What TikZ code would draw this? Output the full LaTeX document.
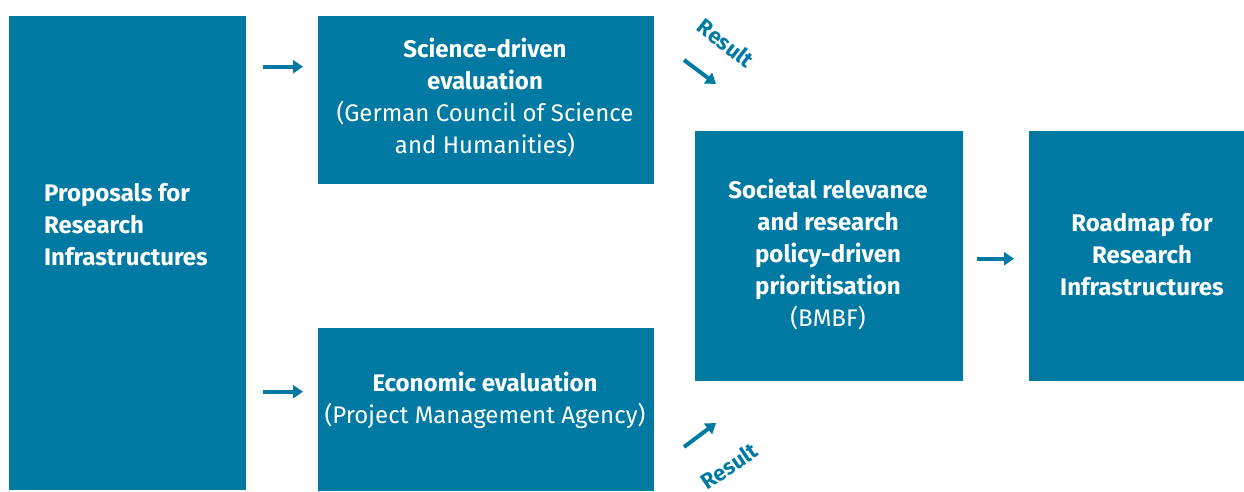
\documentclass[tikz,border=0pt]{standalone}
\usepackage{fontspec}
\setmainfont{Fira Sans}
\usetikzlibrary{arrows.meta}
\definecolor{bmbfblue}{RGB}{0,122,163}
\tikzset{
  box/.style={fill=bmbfblue, draw=none, anchor=north west, inner sep=0pt},
  lbl/.style={text=white, align=center, inner sep=0pt, font=\fontsize{24}{32}\selectfont},
  arr/.style={draw=bmbfblue, line width=4pt, -{Triangle[length=10pt,width=13pt]}},
  res/.style={text=bmbfblue, inner sep=0pt, font=\fontsize{22}{24}\selectfont\bfseries}
}
\begin{document}
\begin{tikzpicture}[x=1pt,y=-1pt]
\useasboundingbox (0,0) rectangle (1244,491);
% boxes
\node[box, minimum width=237pt, minimum height=474pt] (prop) at (9,16) {};
\node[box, minimum width=336pt, minimum height=168pt] (sci) at (318,16) {};
\node[box, minimum width=336pt, minimum height=163pt] (eco) at (318,328) {};
\node[box, minimum width=268pt, minimum height=250pt] (soc) at (695,131) {};
\node[box, minimum width=215pt, minimum height=250pt] (road) at (1029,131) {};
% texts
\node[lbl, align=left, anchor=west] (proptxt) at (44,225) {\bfseries Proposals for\\\bfseries Research\\\bfseries Infrastructures};
\node[lbl] (scitxt) at (485,98) {\bfseries Science-driven\\\bfseries evaluation\\(German Council of Science\\and Humanities)};
\node[lbl] (ecotxt) at (485,400) {\bfseries Economic evaluation\\(Project Management Agency)};
\node[lbl] (soctxt) at (828,254) {\bfseries Societal relevance\\\bfseries and research\\\bfseries policy-driven\\\bfseries prioritisation\\(BMBF)};
\node[lbl] (roadtxt) at (1142,255) {\bfseries Roadmap for\\\bfseries Research\\\bfseries Infrastructures};
% horizontal arrows
\coordinate (a1) at ([yshift=33.5pt]sci.west);
\coordinate (a2) at ([yshift=18pt]eco.west);
\coordinate (a3) at ([yshift=-2.5pt]road.west);
\draw[arr, shorten <=17pt, shorten >=15pt] (prop.east |- a1) -- (a1);
\draw[arr, shorten <=17pt, shorten >=15pt] (prop.east |- a2) -- (a2);
\draw[arr, shorten <=14pt, shorten >=15pt] (soc.east |- a3) -- (a3);
% result arrows
\coordinate (r1a) at (684,60);
\coordinate (r1b) at (716,84);
\coordinate (r2a) at (684,447);
\coordinate (r2b) at (716,423);
\draw[arr] (r1a) -- (r1b);
\draw[arr] (r2a) -- (r2b);
\node[res, rotate=-38] (res1) at (726,43) {Result};
\node[res, rotate=34] (res2) at (729,466) {Result};
\end{tikzpicture}
\end{document}
